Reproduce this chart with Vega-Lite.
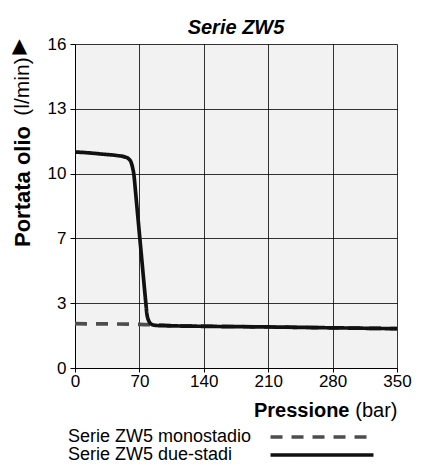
{
  "$schema": "https://vega.github.io/schema/vega-lite/v6.json",
  "width": 322,
  "height": 324,
  "autosize": "none",
  "padding": {"left": 75, "top": 44, "right": 25, "bottom": 106},
  "background": "white",
  "title": {"text": "Serie ZW5", "fontSize": 20, "fontStyle": "italic", "fontWeight": "bold", "anchor": "middle", "offset": -3, "color": "#000", "font": "Liberation Sans"},
  "data": {"values": [
    {"serie": "Serie ZW5 monostadio", "p": 0, "q": 2.05},
    {"serie": "Serie ZW5 monostadio", "p": 70, "q": 2.02},
    {"serie": "Serie ZW5 monostadio", "p": 100, "q": 1.97},
    {"serie": "Serie ZW5 monostadio", "p": 140, "q": 1.94},
    {"serie": "Serie ZW5 monostadio", "p": 210, "q": 1.9},
    {"serie": "Serie ZW5 monostadio", "p": 280, "q": 1.86},
    {"serie": "Serie ZW5 monostadio", "p": 350, "q": 1.82},
    {"serie": "Serie ZW5 due-stadi", "p": 0, "q": 11.0},
    {"serie": "Serie ZW5 due-stadi", "p": 15, "q": 10.96},
    {"serie": "Serie ZW5 due-stadi", "p": 30, "q": 10.9},
    {"serie": "Serie ZW5 due-stadi", "p": 45, "q": 10.84},
    {"serie": "Serie ZW5 due-stadi", "p": 55, "q": 10.76},
    {"serie": "Serie ZW5 due-stadi", "p": 59, "q": 10.66},
    {"serie": "Serie ZW5 due-stadi", "p": 61, "q": 10.52},
    {"serie": "Serie ZW5 due-stadi", "p": 62.5, "q": 10.3},
    {"serie": "Serie ZW5 due-stadi", "p": 64, "q": 9.95},
    {"serie": "Serie ZW5 due-stadi", "p": 66, "q": 9.07},
    {"serie": "Serie ZW5 due-stadi", "p": 68, "q": 8.15},
    {"serie": "Serie ZW5 due-stadi", "p": 70, "q": 7.22},
    {"serie": "Serie ZW5 due-stadi", "p": 72, "q": 6.06},
    {"serie": "Serie ZW5 due-stadi", "p": 74, "q": 4.83},
    {"serie": "Serie ZW5 due-stadi", "p": 76, "q": 3.6},
    {"serie": "Serie ZW5 due-stadi", "p": 77, "q": 3.0},
    {"serie": "Serie ZW5 due-stadi", "p": 78, "q": 2.55},
    {"serie": "Serie ZW5 due-stadi", "p": 80, "q": 2.2},
    {"serie": "Serie ZW5 due-stadi", "p": 83, "q": 2.03},
    {"serie": "Serie ZW5 due-stadi", "p": 88, "q": 1.97},
    {"serie": "Serie ZW5 due-stadi", "p": 140, "q": 1.93},
    {"serie": "Serie ZW5 due-stadi", "p": 210, "q": 1.9},
    {"serie": "Serie ZW5 due-stadi", "p": 280, "q": 1.86},
    {"serie": "Serie ZW5 due-stadi", "p": 350, "q": 1.82}
  ]},
  "resolve": {"axis": {"x": "independent", "y": "independent"}},
  "layer": [
    {
      "mark": {"type": "line", "strokeWidth": 3.7, "interpolate": "monotone"},
      "encoding": {
        "x": {"field": "p", "type": "quantitative",
          "scale": {"domain": [0, 350], "nice": false, "zero": false},
          "axis": {"orient": "bottom", "values": [0, 70, 140, 210, 280, 350], "grid": true, "tickSize": 4, "labelPadding": 1, "labelFontSize": 17, "labelFlush": false,
            "title": "Pressione", "titleFontSize": 20, "titleFontWeight": "bold", "titleAlign": "right", "titleBaseline": "alphabetic", "titleX": 274, "titleY": 48}},
        "y": {"field": "q", "type": "quantitative",
          "scale": {"domain": [0, 3, 7, 10, 13, 16], "range": [324, 259.2, 194.4, 129.6, 64.8, 0], "nice": false, "zero": false},
          "axis": {"orient": "left", "values": [0, 3, 7, 10, 13, 16], "grid": true, "tickSize": 5, "labelPadding": 4, "labelFontSize": 17,
            "title": "Portata olio", "titleFontSize": 22, "titleFontWeight": "bold", "titleAngle": -90, "titleAlign": "center", "titleBaseline": "middle", "titleX": -53, "titleY": 142}},
        "color": {"field": "serie", "type": "nominal",
          "scale": {"domain": ["Serie ZW5 monostadio", "Serie ZW5 due-stadi"], "range": ["#4d4d4d", "#111111"]},
          "legend": {"title": null, "orient": "none", "legendX": 238, "legendY": 384, "padding": 0, "rowPadding": -2,
            "symbolType": "M-10,0H10", "symbolSize": 106, "symbolStrokeWidth": 3.5,
            "labelAlign": "left", "labelOffset": -263, "labelFontSize": 18, "labelLimit": 300, "labelColor": "#000", "labelBaseline": "middle"}},
        "strokeDash": {"field": "serie", "type": "nominal",
          "scale": {"domain": ["Serie ZW5 monostadio", "Serie ZW5 due-stadi"], "range": [[12, 9], [1, 0]]},
          "legend": {"title": null, "orient": "none", "legendX": 238, "legendY": 384, "padding": 0, "rowPadding": -2,
            "symbolType": "M-10,0H10", "symbolSize": 106, "symbolStrokeWidth": 3.5,
            "labelAlign": "left", "labelOffset": -263, "labelFontSize": 18, "labelLimit": 300, "labelColor": "#000", "labelBaseline": "middle"}}
      }
    },
    {
      "mark": {"type": "line", "opacity": 0},
      "encoding": {
        "x": {"field": "p", "type": "quantitative",
          "axis": {"orient": "bottom", "labels": false, "ticks": false, "domain": false, "grid": false,
            "title": "(bar)", "titleFontSize": 20, "titleFontWeight": "normal", "titleAlign": "right", "titleBaseline": "alphabetic", "titleX": 322, "titleY": 48}},
        "y": {"field": "q", "type": "quantitative",
          "axis": {"orient": "left", "labels": false, "ticks": false, "domain": false, "grid": false,
            "title": "(l/min)", "titleFontSize": 21, "titleFontWeight": "normal", "titleAngle": -90, "titleAlign": "center", "titleBaseline": "middle", "titleX": -53, "titleY": 42}}
      }
    },
    {
      "mark": {"type": "line", "opacity": 0},
      "encoding": {
        "x": {"field": "p", "type": "quantitative", "axis": null},
        "y": {"field": "q", "type": "quantitative",
          "axis": {"orient": "left", "labels": false, "ticks": false, "domain": false, "grid": false,
            "title": "▲", "titleFont": "DejaVu Sans", "titleFontSize": 20, "titleFontWeight": "normal", "titleAngle": 0, "titleAlign": "center", "titleBaseline": "middle", "titleX": -56, "titleY": 1}}
      }
    }
  ],
  "config": {
    "font": "Liberation Sans",
    "view": {"fill": "#f2f2f2", "stroke": null},
    "axis": {"labelColor": "#000", "titleColor": "#000", "domainColor": "#000", "tickColor": "#000", "gridColor": "#000", "gridOpacity": 1, "gridWidth": 0.8, "domainWidth": 1, "tickWidth": 1, "labelFont": "Liberation Sans", "titleFont": "Liberation Sans"},
    "legend": {"labelFont": "Liberation Sans"}
  }
}
